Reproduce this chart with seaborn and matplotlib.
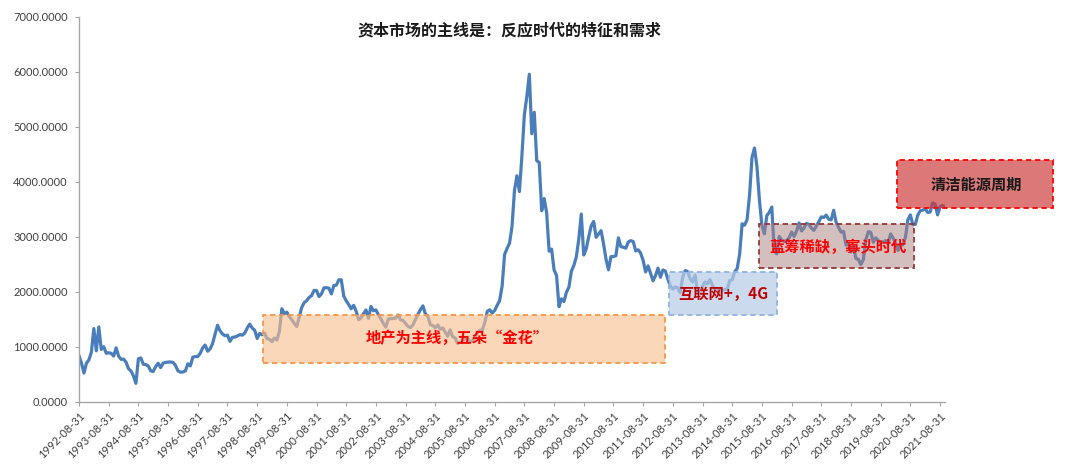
import numpy as np
import pandas as pd
import matplotlib
matplotlib.use("Agg")
import matplotlib.pyplot as plt
from matplotlib.patches import Rectangle
import seaborn as sns

# ---------------- data (monthly closes, 1992-08 .. 2021-10) ----------------
close_1992_1996 = [
    840, 700, 520, 700, 760,                                           # 1992 Aug-Dec
    900, 1330, 925, 1360, 950, 1000, 880, 890, 880, 830, 980, 830,     # 1993
    770, 775, 720, 600, 560, 470, 334, 780, 795, 680, 675, 648,        # 1994
    560, 550, 640, 700, 620, 700, 715, 720, 722, 715, 660, 560,        # 1995
    537, 540, 560, 690, 650, 810, 820, 820, 880, 980, 1030, 917,       # 1996
]
close_1997_2001 = [
    960, 1060, 1230, 1390, 1290, 1230, 1200, 1210, 1097, 1170, 1175, 1194,   # 1997
    1220, 1210, 1250, 1340, 1411, 1339, 1300, 1150, 1242, 1217, 1247, 1146,  # 1998
    1134, 1090, 1158, 1120, 1280, 1690, 1601, 1627, 1545, 1490, 1425, 1367,  # 1999
    1535, 1714, 1800, 1836, 1895, 1928, 2023, 2022, 1911, 1961, 2070, 2073,  # 2000
    2065, 1960, 2113, 2119, 2215, 2218, 1921, 1834, 1767, 1690, 1752, 1646,  # 2001
]
close_2002_2006 = [
    1491, 1524, 1603, 1667, 1515, 1732, 1653, 1669, 1581, 1507, 1425, 1357,  # 2002
    1500, 1511, 1511, 1521, 1576, 1487, 1477, 1421, 1367, 1349, 1398, 1497,  # 2003
    1590, 1675, 1742, 1595, 1555, 1399, 1386, 1342, 1396, 1320, 1341, 1266,  # 2004
    1191, 1306, 1181, 1159, 1060, 1080, 1083, 1163, 1155, 1092, 1099, 1161,  # 2005
    1258, 1299, 1298, 1440, 1642, 1672, 1612, 1658, 1753, 1838, 2099, 2675,  # 2006
]
close_2007_2011 = [
    2786, 2881, 3183, 3841, 4109, 3820, 4471, 5218, 5552, 5954, 4871, 5262,  # 2007
    4383, 4348, 3472, 3693, 3433, 2736, 2775, 2397, 2293, 1729, 1871, 1821,  # 2008
    1991, 2082, 2373, 2477, 2633, 2959, 3412, 2667, 2779, 2996, 3195, 3277,  # 2009
    2989, 3051, 3110, 2870, 2592, 2398, 2638, 2638, 2656, 2979, 2820, 2808,  # 2010
    2791, 2905, 2928, 2911, 2743, 2762, 2701, 2568, 2359, 2469, 2333, 2199,  # 2011
]
close_2012_2016 = [
    2292, 2428, 2262, 2396, 2373, 2225, 2103, 2047, 2086, 2069, 1980, 2269,  # 2012
    2385, 2366, 2237, 2178, 2301, 1979, 1994, 2098, 2175, 2141, 2220, 2116,  # 2013
    2033, 2056, 2033, 2026, 2039, 2048, 2202, 2217, 2364, 2420, 2683, 3235,  # 2014
    3210, 3310, 3748, 4442, 4612, 4277, 3664, 3206, 3053, 3383, 3445, 3539,  # 2015
    2738, 2688, 3004, 2938, 2917, 2930, 2979, 3085, 3005, 3100, 3250, 3104,  # 2016
]
close_2017_2021 = [
    3159, 3242, 3223, 3155, 3117, 3192, 3273, 3361, 3349, 3393, 3317, 3307,  # 2017
    3481, 3259, 3169, 3082, 3095, 2847, 2876, 2725, 2821, 2603, 2588, 2494,  # 2018
    2585, 2941, 3091, 3078, 2899, 2979, 2932, 2886, 2905, 2929, 2872, 3050,  # 2019
    2977, 2880, 2750, 2860, 2852, 2985, 3310, 3396, 3218, 3225, 3392, 3473,  # 2020
    3483, 3509, 3442, 3447, 3615, 3591, 3397, 3544, 3568, 3547,              # 2021 Jan-Oct
]

tick_years = list(range(1992, 2022))
tick_labels = [f"{y}-08-31" for y in tick_years]

title_text = "资本市场的主线是：反应时代的特征和需求"
box_texts = ["地产为主线，五朵“金花”", "互联网+，4G", "蓝筹稀缺，寡头时代", "清洁能源周期"]

# ---------------- build frame ----------------
closes = (close_1992_1996 + close_1997_2001 + close_2002_2006 +
          close_2007_2011 + close_2012_2016 + close_2017_2021)
df = pd.DataFrame({"month": np.arange(len(closes)), "close": closes})

# ---------------- style ----------------
sns.set_theme(style="white")
plt.rcParams["font.family"] = ["Lato", "Noto Sans CJK SC", "DejaVu Sans"]
cjk = ["Noto Sans CJK SC", "DejaVu Sans"]

W, H = 1080, 472
fig = plt.figure(figsize=(W / 100, H / 100), dpi=100)
ax_l, ax_r, ax_t, ax_b = 79, 945, 16.7, 401.7
ax = fig.add_axes([ax_l / W, 1 - ax_b / H, (ax_r - ax_l) / W, (ax_b - ax_t) / H])

sns.lineplot(data=df, x="month", y="close", ax=ax, color="#4A7EBB",
             linewidth=2.3, zorder=2)

ax.set_xlim(0, len(closes) - 1)
ax.set_ylim(0, 7000)
ax.set_yticks(np.arange(0, 7001, 1000))
ax.yaxis.set_major_formatter(matplotlib.ticker.FuncFormatter(lambda v, p: f"{v:.4f}"))
ax.set_xticks(np.arange(len(tick_labels)) * 12)
ax.set_xticklabels(tick_labels, rotation=45, ha="right", va="top",
                   rotation_mode="anchor")
ax.set_xlabel("")
ax.set_ylabel("")

for s in ["top", "right"]:
    ax.spines[s].set_visible(False)
for s in ["left", "bottom"]:
    ax.spines[s].set_color("#A6A6A6")
    ax.spines[s].set_linewidth(1.0)
ax.tick_params(axis="both", direction="out", length=3, width=0.8,
               color="#A6A6A6", labelsize=8, labelcolor="#404040",
               bottom=True, left=True)
ax.tick_params(axis="y", pad=5)
ax.tick_params(axis="x", pad=3)

# ---------------- annotation boxes ----------------
# (x0, x1 in months; y0, y1 in index units)
box_spans = [(74.3, 237.0, 709, 1576),
             (238.6, 282.0, 1576, 2364),
             (275.0, 337.5, 2425, 3225),
             (330.8, 393.6, 3516, 4395)]
box_faces = [(0.98, 0.75, 0.56, 0.62),
             (0.725, 0.80, 0.90, 0.72),
             (0.667, 0.50, 0.50, 0.50),
             (0.80, 0.22, 0.22, 0.68)]
box_edges = ["#F79646", "#8EB4E3", "#953735", "#FF0000"]
text_pos = [(152.8, 1158), (260.3, 1958), (306.8, 2818), (362.6, 3940)]
text_colors = ["#FF0000", "#C00000", "#FF0000", "#1A1A1A"]

for (x0, x1, y0, y1), fc, ec in zip(box_spans, box_faces, box_edges):
    ax.add_patch(Rectangle((x0, y0), x1 - x0, y1 - y0, facecolor=fc,
                           edgecolor=ec, linestyle=(0, (3, 2)), linewidth=1.3,
                           zorder=3, clip_on=False))
for (tx, ty), s, c in zip(text_pos, box_texts, text_colors):
    ax.text(tx, ty, s, ha="center", va="center", fontsize=11,
            fontweight="bold", color=c, family=cjk, zorder=4, clip_on=False)

fig.text(509 / W, 1 - 30 / H, title_text, ha="center", va="center",
         fontsize=11.5, fontweight="bold", color="#1A1A1A", family=cjk)

fig.savefig("out.png", dpi=100)
